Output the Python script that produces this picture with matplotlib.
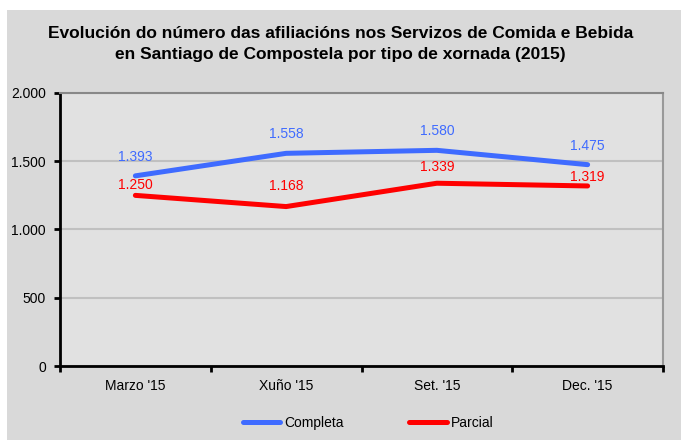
import matplotlib.pyplot as plt
from matplotlib.patches import Rectangle
from matplotlib.ticker import FuncFormatter

# data
months = ["Marzo '15", "Xuño '15", "Set. '15", "Dec. '15"]
completa = [1393, 1558, 1580, 1475]
parcial = [1250, 1168, 1339, 1319]
# manual label offsets (points above the marker) for the red series
parcial_offsets = [7.2, 15, 12, 6.5]

plt.rcParams['font.family'] = ['Liberation Sans', 'DejaVu Sans']

fig = plt.figure(figsize=(6.81, 4.42), dpi=100)
fig.patch.set_facecolor('white')
fig.patches.append(Rectangle((7 / 681, 0.005), 1, (432 - 2) / 442, transform=fig.transFigure,
                             facecolor='#d9d9d9', edgecolor='none', zorder=-10))

ax = fig.add_axes([60 / 681, 76 / 442, 603 / 681, 273 / 442])
ax.set_facecolor('#e1e1e1')

x = list(range(len(months)))
ax.plot(x, completa, color='#3f6bff', lw=3.6, solid_capstyle='round', label='Completa', zorder=3)
ax.plot(x, parcial, color='#ff0000', lw=3.6, solid_capstyle='round', label='Parcial', zorder=3)

fmt = lambda v: f"{v:,}".replace(',', '.')
for i, v in enumerate(completa):
    ax.annotate(fmt(v), (i, v), xytext=(0, 13.7), textcoords='offset points',
                ha='center', va='center', color='#3f6bff', fontsize=10)
for i, v in enumerate(parcial):
    ax.annotate(fmt(v), (i, v), xytext=(0, parcial_offsets[i]), textcoords='offset points',
                ha='center', va='center', color='#ff0000', fontsize=10)

ax.set_xlim(-0.5, len(months) - 0.5)
ax.set_ylim(0, 2000)
ax.set_yticks([0, 500, 1000, 1500, 2000])
ax.yaxis.set_major_formatter(FuncFormatter(lambda v, p: fmt(int(v))))
ax.set_xticks(x)
ax.set_xticklabels(months)
ax.set_xticks([i - 0.5 for i in range(len(months) + 1)], minor=True)
ax.tick_params(axis='x', which='major', length=0, pad=9, labelsize=10)
ax.tick_params(axis='x', which='minor', length=4, width=2, direction='out', color='black')
ax.tick_params(axis='y', length=4, width=2, direction='out', labelsize=10, pad=6)

ax.grid(axis='y', color='#c0c0c0', lw=1.5)
ax.set_axisbelow(True)
ax.spines['left'].set_color('black')
ax.spines['left'].set_linewidth(2)
ax.spines['bottom'].set_color('black')
ax.spines['bottom'].set_linewidth(2)
ax.spines['top'].set_color('#888888')
ax.spines['top'].set_linewidth(1.5)
ax.spines['right'].set_color('#999999')
ax.spines['right'].set_linewidth(1.5)

fig.text(0.5, 1 - 44 / 442, "Evolución do número das afiliacións nos Servizos de Comida e Bebida\n"
         "en Santiago de Compostela por tipo de xornada (2015)",
         ha='center', va='center', fontsize=12.5, fontweight='bold', linespacing=1.5)

fig.legend(loc='center', bbox_to_anchor=(368 / 681, 1 - 423 / 442), ncol=2, frameon=False,
           fontsize=10, handlelength=2.7, handletextpad=0.3, columnspacing=4.7)

fig.savefig('out.png', dpi=100)
